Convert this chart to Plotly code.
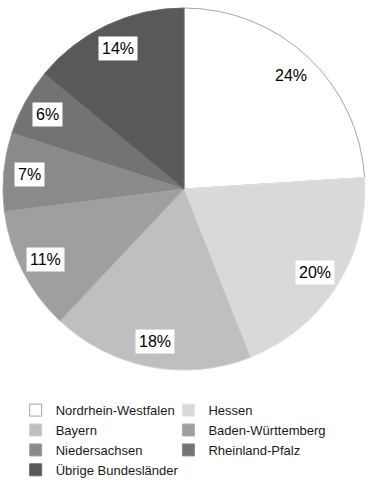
import math
import plotly.graph_objects as go

labels = ["Nordrhein-Westfalen", "Hessen", "Bayern", "Baden-Württemberg",
          "Niedersachsen", "Rheinland-Pfalz", "Übrige Bundesländer"]
values = [24, 20, 18, 11, 7, 6, 14]
colors = ["#ffffff", "#d9d9d9", "#bfbfbf", "#9f9f9f", "#8a8a8a", "#737373", "#595959"]
line_colors = ["#a6a6a6", "#e6e6e6", "#d0d0d0", "#b0b0b0", "#a0a0a0", "#8a8a8a", "#6a6a6a"]

W, H = 369, 487
ML, MR, MT, MB = 3, 4, 8, 117

fig = go.Figure(go.Pie(
    labels=labels,
    values=values,
    sort=False,
    direction="clockwise",
    rotation=0,
    marker=dict(colors=colors, line=dict(color=line_colors, width=1)),
    textinfo="none",
    hoverinfo="label+percent",
    domain=dict(x=[0, 1], y=[0, 1]),
))

# Percentage labels in white boxes, placed from the data
total = sum(values)
cum = 0
annotations = []
rfrac = 0.86
for v in values:
    mid = (cum + v / 2) / total * 2 * math.pi
    cum += v
    x = 0.5 + rfrac * 0.5 * math.sin(mid)
    y = 0.5 + rfrac * 0.5 * math.cos(mid)
    annotations.append(dict(
        x=x, y=y, xref="paper", yref="paper",
        text=f"{round(v / total * 100)}%",
        showarrow=False,
        font=dict(family="Liberation Sans, Arial, sans-serif", size=16, color="#000000"),
        bgcolor="#ffffff",
        borderpad=3,
        xanchor="center", yanchor="middle",
    ))

fig.update_layout(
    width=W, height=H,
    margin=dict(l=ML, r=MR, t=MT, b=MB, autoexpand=False),
    paper_bgcolor="#ffffff",
    plot_bgcolor="#ffffff",
    annotations=annotations,
    showlegend=True,
    legend=dict(
        orientation="h",
        x=0.035, xanchor="left",
        y=-0.0695, yanchor="top",
        entrywidth=0.422, entrywidthmode="fraction",
        font=dict(family="Liberation Sans, Arial, sans-serif", size=13, color="#1a1a1a"),
        itemwidth=30,
        traceorder="normal",
    ),
)

fig.write_html("out.html", config={"displayModeBar": False},
               post_script="document.body.style.margin='0';")
